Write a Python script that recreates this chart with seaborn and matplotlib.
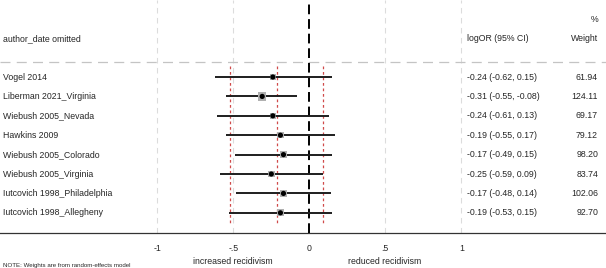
import matplotlib
matplotlib.use("Agg")
import matplotlib.pyplot as plt
import seaborn as sns
import numpy as np
import pandas as pd

studies = ["Vogel 2014", "Liberman 2021_Virginia", "Wiebush 2005_Nevada", "Hawkins 2009",
           "Wiebush 2005_Colorado", "Wiebush 2005_Virginia", "Iutcovich 1998_Philadelphia",
           "Iutcovich 1998_Allegheny"]
est = [-0.24, -0.31, -0.24, -0.19, -0.17, -0.25, -0.17, -0.19]
lo = [-0.62, -0.55, -0.61, -0.55, -0.49, -0.59, -0.48, -0.53]
hi = [0.15, -0.08, 0.13, 0.17, 0.15, 0.09, 0.14, 0.15]
weights = [61.94, 124.11, 69.17, 79.12, 98.20, 83.74, 102.06, 92.70]
overall = [-0.52, -0.21, 0.09]
xticks = [-1, -0.5, 0, 0.5, 1]
xticklabels = ["-1", "-.5", "0", ".5", "1"]

sns.set_style("white")
plt.rcParams['font.family'] = ['Liberation Sans', 'DejaVu Sans']

df = pd.DataFrame({"study": studies, "est": est, "lo": lo, "hi": hi, "w": weights,
                   "row": np.arange(len(studies))})

fig = plt.figure(figsize=(6.06, 2.68), dpi=100)
ax = fig.add_axes([0, 1 - 233 / 268, 1, 233 / 268])
ax.set_xlim(-2.035, 1.952)
ax.set_ylim(8.04, -3.97)

# light grid lines
for xv in [-1, -0.5, 0.5, 1]:
    ax.axvline(xv, color="#dcdcdc", lw=0.8, ls=(0, (5, 4)), zorder=0)
# horizontal separator
ax.axhline(-0.77, color="#c4c4c4", lw=0.9, ls=(0, (8, 5)), zorder=1)
# zero line
ax.axvline(0, color="black", lw=1.4, ls=(0, (5, 2.5)), zorder=3)
# overall estimate and CI
for xv in overall:
    ax.vlines(xv, -0.55, 7.6, color="#d04a4a", lw=0.9, ls=(0, (2.2, 2.2)), zorder=2)

# CI lines
ax.hlines(df["row"], df["lo"], df["hi"], color="#1e1e1e", lw=1.4, zorder=4)
# weight boxes and points
sns.scatterplot(data=df, x="est", y="row", size="w", sizes=(16, 36), marker="s",
                color="#b0b0b0", edgecolor="none", legend=False, ax=ax, zorder=5)
sns.scatterplot(data=df, x="est", y="row", marker="o", s=14, color="black",
                edgecolor="none", legend=False, ax=ax, zorder=6)

# text columns
fs = 6.3
for i, r in df.iterrows():
    ax.text(-2.015, r["row"], r["study"], ha="left", va="center", fontsize=fs)
    ax.text(1.04, r["row"], f"{r['est']:.2f} ({r['lo']:.2f}, {r['hi']:.2f})",
            ha="left", va="center", fontsize=fs)
    ax.text(1.9, r["row"], f"{r['w']:.2f}", ha="right", va="center", fontsize=fs)

ax.text(-2.015, -2.0, "author_date omitted", ha="left", va="center", fontsize=fs)
ax.text(1.04, -2.0, "logOR (95% CI)", ha="left", va="center", fontsize=fs)
ax.text(1.9, -2.0, "Weight", ha="right", va="center", fontsize=fs)
ax.text(1.9, -2.95, "%", ha="right", va="center", fontsize=fs)

# axis
for s in ["top", "left", "right"]:
    ax.spines[s].set_visible(False)
ax.spines["bottom"].set_color("#333333")
ax.spines["bottom"].set_linewidth(0.9)
ax.set_yticks([])
ax.set_xticks(xticks)
ax.set_xticklabels(xticklabels, fontsize=fs)
ax.tick_params(axis="x", direction="out", length=4, width=0.8, color="#333333", pad=4)
ax.set_xlabel("")
ax.set_ylabel("")

fig.text(233 / 606, 1 - 261 / 268, "increased recidivism", ha="center", va="center", fontsize=6.3)
fig.text(385 / 606, 1 - 261 / 268, "reduced recidivism", ha="center", va="center", fontsize=6.3)
fig.text(3 / 606, 1 - 265 / 268, "NOTE: Weights are from random-effects model", ha="left",
         va="center", fontsize=4.4)

fig.savefig("out.png", dpi=100)
